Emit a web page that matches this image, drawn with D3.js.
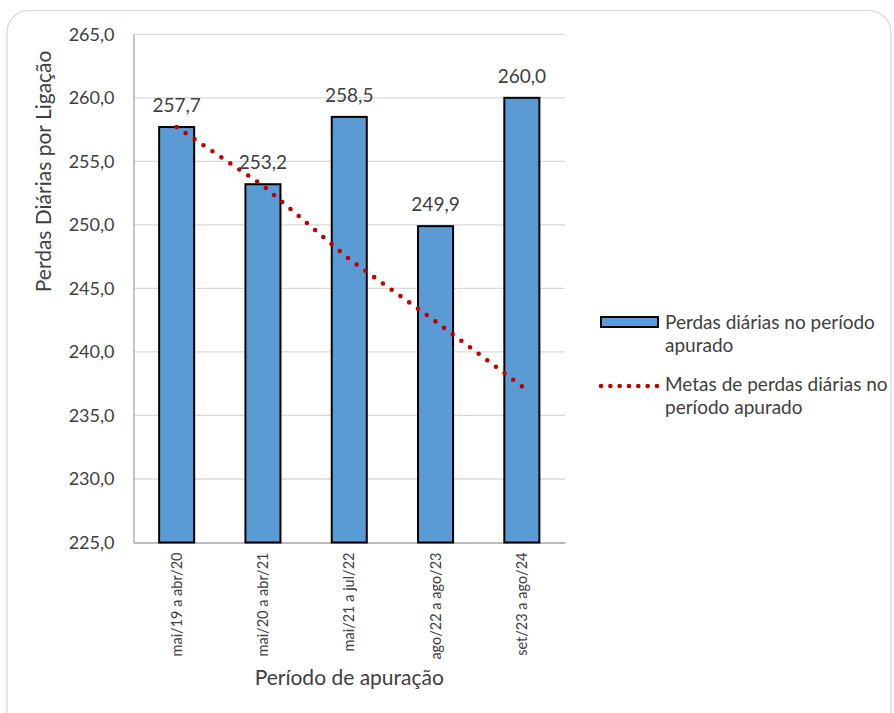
<!DOCTYPE html>
<html>
<head>
<meta charset="utf-8">
<script src="https://cdn.jsdelivr.net/npm/d3@7"></script>
<style>
  html, body { margin: 0; padding: 0; background: #ffffff; }
  svg { display: block; font-family: Lato, "Open Sans", sans-serif; }
</style>
</head>
<body>
<svg id="chart" width="894" height="713"></svg>
<script>
// Períodos de apuração (eixo X)
const periods = ["mai/19 a abr/20", "mai/20 a abr/21", "mai/21 a jul/22", "ago/22 a ago/23", "set/23 a ago/24"];
// Perdas diárias apuradas em cada período
const losses = [257.7, 253.2, 258.5, 249.9, 260.0];
// Metas de perdas diárias por período
const targets = [257.7, 253.1, 247.3, 242.4, 237.3];
// Marcas do eixo Y
const yTicks = [225, 230, 235, 240, 245, 250, 255, 260, 265];
// Textos da legenda (uma linha por item)
const legendBars = ["Perdas diárias no período", "apurado"];
const legendLine = ["Metas de perdas diárias no", "período apurado"];

const svg = d3.select("#chart");
const textColor = "#404040";
const fmt = v => d3.format(".1f")(v).replace(".", ",");

// Moldura arredondada do gráfico
svg.append("rect")
  .attr("x", 7).attr("y", 10.5)
  .attr("width", 884).attr("height", 740)
  .attr("rx", 22).attr("ry", 22)
  .attr("fill", "#ffffff")
  .attr("stroke", "#d6d6d6")
  .attr("stroke-width", 1.2);

const plot = { left: 133.5, right: 565, top: 34.3, bottom: 542.5 };

const x = d3.scaleBand()
  .domain(periods)
  .range([plot.left, plot.right])
  .paddingInner(0.594)
  .paddingOuter(0.297);

const y = d3.scaleLinear()
  .domain([225, 265])
  .range([plot.bottom, plot.top]);

// Linhas de grade horizontais
svg.append("g")
  .selectAll("line")
  .data(yTicks.filter(t => t > 225))
  .join("line")
  .attr("x1", plot.left).attr("x2", plot.right)
  .attr("y1", d => y(d)).attr("y2", d => y(d))
  .attr("stroke", "#d9d9d9")
  .attr("stroke-width", 1.3);

// Eixo Y
const yAxis = svg.append("g")
  .attr("transform", `translate(${plot.left},0)`)
  .call(d3.axisLeft(y).tickValues(yTicks).tickSize(0).tickPadding(19).tickFormat(fmt));
yAxis.select(".domain").attr("stroke", "#a6a6a6").attr("stroke-width", 1.3);
yAxis.selectAll("text")
  .attr("fill", textColor)
  .style("font-size", "18px")
  .style("font-family", "Lato, sans-serif");

// Eixo X
const xAxis = svg.append("g")
  .attr("transform", `translate(0,${plot.bottom})`)
  .call(d3.axisBottom(x).tickSize(0).tickPadding(0));
xAxis.select(".domain").attr("stroke", "#a6a6a6").attr("stroke-width", 1.3);
xAxis.selectAll("text")
  .attr("fill", textColor)
  .style("font-size", "14.5px")
  .style("font-family", "Lato, sans-serif")
  .attr("text-anchor", "end")
  .attr("dy", "0.35em")
  .attr("transform", "translate(0,10) rotate(-90)")
  .attr("x", 0).attr("y", 0);

// Barras
svg.append("g")
  .selectAll("rect")
  .data(periods)
  .join("rect")
  .attr("x", d => x(d))
  .attr("width", x.bandwidth())
  .attr("y", (d, i) => y(losses[i]))
  .attr("height", (d, i) => y(225) - y(losses[i]))
  .attr("fill", "#5b9bd5")
  .attr("stroke", "#000000")
  .attr("stroke-width", 2);

// Linha pontilhada das metas
const line = d3.line()
  .x((d, i) => x(periods[i]) + x.bandwidth() / 2)
  .y(d => y(d));
svg.append("path")
  .datum(targets)
  .attr("d", line)
  .attr("fill", "none")
  .attr("stroke", "#c00000")
  .attr("stroke-width", 4.6)
  .attr("stroke-linecap", "round")
  .attr("stroke-dasharray", "0 10.8");

// Rótulos de dados
svg.append("g")
  .selectAll("text")
  .data(periods)
  .join("text")
  .attr("x", d => x(d) + x.bandwidth() / 2)
  .attr("y", (d, i) => y(losses[i]) - 15)
  .attr("text-anchor", "middle")
  .attr("fill", textColor)
  .style("font-size", "19px")
  .text((d, i) => fmt(losses[i]));

// Título do eixo Y
svg.append("text")
  .attr("transform", `translate(51,${(plot.top + plot.bottom) / 2 - 117}) rotate(-90)`)
  .attr("text-anchor", "middle")
  .attr("fill", textColor)
  .style("font-size", "21px")
  .text("Perdas Diárias por Ligação");

// Título do eixo X
svg.append("text")
  .attr("x", (plot.left + plot.right) / 2)
  .attr("y", 685)
  .attr("text-anchor", "middle")
  .attr("fill", textColor)
  .style("font-size", "21px")
  .text("Período de apuração");

// Legenda
const legend = svg.append("g");
legend.append("rect")
  .attr("x", 601).attr("y", 317)
  .attr("width", 57).attr("height", 10)
  .attr("fill", "#5b9bd5")
  .attr("stroke", "#000000")
  .attr("stroke-width", 2);
legend.append("text")
  .attr("fill", textColor)
  .style("font-size", "19px")
  .selectAll("tspan")
  .data(legendBars)
  .join("tspan")
  .attr("x", 665)
  .attr("y", (d, i) => 328.5 + i * 23)
  .text(d => d);

legend.append("line")
  .attr("x1", 601).attr("x2", 657)
  .attr("y1", 386).attr("y2", 386)
  .attr("stroke", "#c00000")
  .attr("stroke-width", 4.6)
  .attr("stroke-linecap", "round")
  .attr("stroke-dasharray", "0 9.33");
legend.append("text")
  .attr("fill", textColor)
  .style("font-size", "19px")
  .selectAll("tspan")
  .data(legendLine)
  .join("tspan")
  .attr("x", 665)
  .attr("y", (d, i) => 390.5 + i * 23)
  .text(d => d);
</script>
</body>
</html>
